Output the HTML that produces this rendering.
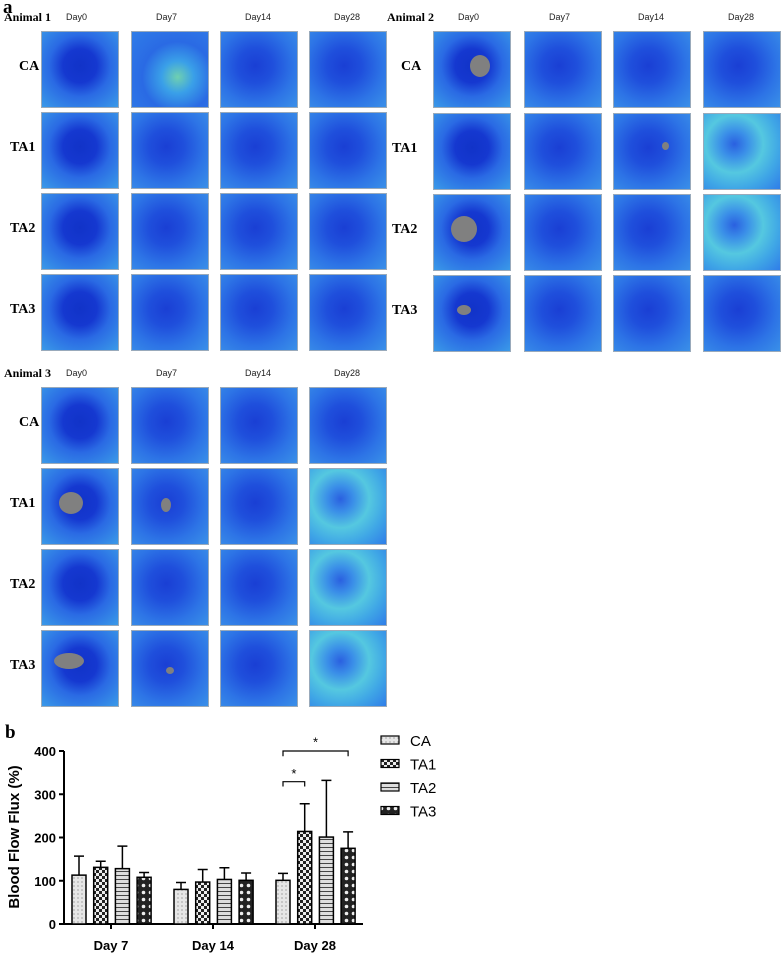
<!DOCTYPE html>
<html><head><meta charset="utf-8">
<style>
body{margin:0;background:#fff;width:784px;height:958px;position:relative;overflow:hidden;font-family:"Liberation Sans",sans-serif}
.t{position:absolute;width:76px;height:75px;box-shadow:0 0 0 1px #9ab}
.g{position:absolute;background:#808080;border-radius:50%}
.lab{position:absolute;font-family:"Liberation Serif",serif;font-weight:bold;font-size:13px}
.day{position:absolute;font-size:9px;color:#222}
</style></head><body>
<div class="lab" style="left:3px;top:-3px;font-size:19px">a</div>
<div class="lab" style="left:5px;top:722px;font-size:19px">b</div>
<div id="heat"></div>
<svg id="chart" width="784" height="958" style="position:absolute;left:0;top:0"></svg>
<script>
const animals=[{n:'Animal 1',lx:4,ly:10,xs:[42,132,221,310],ys:[32,113,194,275],rl:10},
{n:'Animal 2',lx:387,ly:10,xs:[434,525,614,704],ys:[32,114,195,276],rl:392},
{n:'Animal 3',lx:4,ly:366,xs:[42,132,221,310],ys:[388,469,550,631],rl:10}];
const rows=['CA','TA1','TA2','TA3'],days=['Day0','Day7','Day14','Day28'];
// gray wound spots: [animal,row,day,cx%,cy%,w,h]
const grays=[[1,0,0,60,45,20,22],[1,2,0,40,45,26,26],[1,3,0,40,45,14,10],[2,1,0,38,45,24,22],[2,1,1,45,48,10,14],[2,3,0,35,40,30,16],[2,3,1,50,52,8,7],[1,1,2,68,42,7,8]];
const heat=document.getElementById('heat');
function mk(cls,txt,css){const d=document.createElement('div');d.className=cls;if(txt)d.textContent=txt;d.style.cssText=css;heat.appendChild(d);return d;}
animals.forEach((a,ai)=>{
 const al=mk('lab',a.n,`left:${a.lx}px;top:${a.ly}px;font-size:12px`);
 
 
 days.forEach((d,di)=>{const e=mk('day',d,`left:${a.xs[di]+38-14}px;top:${a.ly+2}px`);
  
  });
 rows.forEach((r,ri)=>{
  const rl=mk('lab',r,`left:${a.rl+(r=='CA'?9:0)}px;top:${a.ys[ri]+27}px;font-size:14px`);
  
  
  days.forEach((d,di)=>{
   const light=(di==3&&ai==2&&ri>0)||(di==3&&ai==1&&(ri==1||ri==2));
   let bg;
   if(light) bg='radial-gradient(circle at 40% 40%,#2a60e0 0,#3a8ee8 20%,#55c8e0 45%,#3fa6e6 70%,#2f7de8 100%)';
   else if(di==0) bg='radial-gradient(circle at 50% 45%,#1133c8 0,#1538d0 30%,#2a6ae4 55%,#3a9ae8 100%)';
   else if(di==1&&ai==0&&ri==0) bg='radial-gradient(circle at 60% 60%,#6fd0b0 0,#3aa0e8 25%,#2a6ae4 55%,#2f7de8 100%)';
   else bg='radial-gradient(circle at 45% 45%,#1a3fd4 0,#1f4fdc 30%,#2d74e6 65%,#3a90e8 100%)';
   const t=mk('t','',`left:${a.xs[di]}px;top:${a.ys[ri]}px;background:${bg}`);
   
   
  });
 });
});
grays.forEach(g=>{const a=animals[g[0]];const x=a.xs[g[2]]+76*g[3]/100-g[5]/2,y=a.ys[g[1]]+75*g[4]/100-g[6]/2;
 const s=mk('g','',`left:${x}px;top:${y}px;width:${g[5]}px;height:${g[6]}px`);
 
 });

// chart data
const groups=['Day 7','Day 14','Day 28'];
const series=['CA','TA1','TA2','TA3'];
const caVals=[113,80,101];
const ta1Vals=[131,97,214];
const ta2Vals=[128,103,201];
const ta3Vals=[108,101,175];
const caErr=[157,96,117];
const ta1Err=[145,126,278];
const ta2Err=[180,130,332];
const ta3Err=[119,118,213];
const yTicks=[0,100,200,300,400];
const vals=[caVals,ta1Vals,ta2Vals,ta3Vals],errs=[caErr,ta1Err,ta2Err,ta3Err];

const svg=document.getElementById('chart'),NS='http://www.w3.org/2000/svg';
function el(tag,at,par){const e=document.createElementNS(NS,tag);for(const k in at)e.setAttribute(k,at[k]);(par||svg).appendChild(e);return e;}
const defs=el('defs',{});
defs.innerHTML=`<pattern id="p0" width="4" height="4" patternUnits="userSpaceOnUse"><rect width="4" height="4" fill="#e6e6e6"/><circle cx="2" cy="2" r="0.6" fill="#777"/></pattern>
<pattern id="p1" width="6" height="6" patternUnits="userSpaceOnUse"><rect width="6" height="6" fill="#eee"/><rect width="3" height="3" fill="#222"/><rect x="3" y="3" width="3" height="3" fill="#222"/></pattern>
<pattern id="p2" width="4" height="4" patternUnits="userSpaceOnUse"><rect width="4" height="4" fill="#ddd"/><rect y="3" width="4" height="1" fill="#444"/></pattern>
<pattern id="p3" width="7" height="7" patternUnits="userSpaceOnUse"><rect width="7" height="7" fill="#222"/><circle cx="3.5" cy="3.5" r="1.8" fill="#eee"/></pattern>`;
const X0=64,X1=363,Y0=924,Y400=751;
const y=v=>Y0-(v/400)*(Y0-Y400);
const gx=i=>111+i*102;
const bx=(g,s)=>gx(g)-39+s*21.7;
const BW=14;
el('line',{x1:X0,y1:Y400,x2:X0,y2:Y0,stroke:'#000','stroke-width':2});
el('line',{x1:X0-1,y1:Y0,x2:X1,y2:Y0,stroke:'#000','stroke-width':2});
yTicks.forEach(t=>{const l=el('line',{x1:X0-5,y1:y(t),x2:X0,y2:y(t),stroke:'#000','stroke-width':2});
 
 const tx=el('text',{x:X0-8,y:y(t)+5,'text-anchor':'end','font-size':13,'font-weight':'bold'});tx.textContent=t;
 });
groups.forEach((g,gi)=>{el('line',{x1:gx(gi),y1:Y0,x2:gx(gi),y2:Y0+5,stroke:'#000','stroke-width':2});
 const tx=el('text',{x:gx(gi),y:Y0+26,'text-anchor':'middle','font-size':13,'font-weight':'bold'});tx.textContent=g;
 
 series.forEach((s,si)=>{const v=vals[si][gi],e=errs[si][gi],x=bx(gi,si);
  const ln=el('path',{d:`M${x+BW/2},${y(v)}V${y(e)}M${x+BW/2-5},${y(e)}H${x+BW/2+5}`,stroke:'#000','stroke-width':1.5,fill:'none'});
  
  const r=el('rect',{x:x,y:y(v),width:BW,height:Y0-y(v),fill:`url(#p${si})`,stroke:'#000','stroke-width':1.5});
  });
});
const yl=el('text',{transform:'translate(19,837) rotate(-90)','text-anchor':'middle','font-size':15,'font-weight':'bold'});yl.textContent='Blood Flow Flux (%)';

const b1=el('path',{d:`M${bx(2,0)+7},${y(318)}V${y(329)}H${bx(2,1)+7}V${y(318)}`,stroke:'#000','stroke-width':1.2,fill:'none'});

const b2=el('path',{d:`M${bx(2,0)+7},${y(388)}V${y(400)}H${bx(2,3)+7}V${y(388)}`,stroke:'#000','stroke-width':1.2,fill:'none'});

const s1=el('text',{x:(bx(2,0)+bx(2,1))/2+7,y:y(338),'text-anchor':'middle','font-size':13});s1.textContent='*';

const s2=el('text',{x:(bx(2,0)+bx(2,3))/2+7,y:y(410),'text-anchor':'middle','font-size':13});s2.textContent='*';

series.forEach((s,si)=>{const ly=740+si*23.5;
 const r=el('rect',{x:381,y:ly-4,width:18,height:8,fill:`url(#p${si})`,stroke:'#000','stroke-width':1.2});
 
 const t=el('text',{x:410,y:ly+6,'font-size':15});t.textContent=s;
 });
</script>
</body></html>
